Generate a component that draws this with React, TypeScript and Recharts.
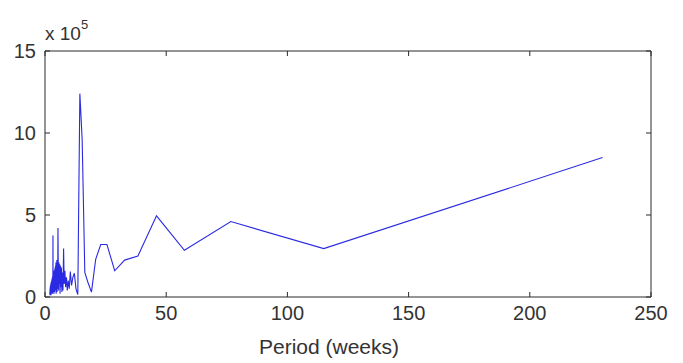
import React from 'react';
import { LineChart, Line, XAxis, YAxis } from 'recharts';

// Period (weeks) for each periodogram bin, longest first
const periods = [
  230, 115, 76.67, 57.5, 46, 38.33, 32.86, 28.75, 25.56, 23,
  20.91, 19.17, 17.69, 16.43, 15.33, 14.38, 13.53, 12.78, 12.11, 11.5,
  10.95, 10.45, 10, 9.58, 9.2, 8.85, 8.52, 8.21, 7.93, 7.67,
  7.42, 7.19, 6.97, 6.76, 6.57, 6.39, 6.22, 6.05, 5.9, 5.75,
  5.61, 5.48, 5.35, 5.23, 5.11, 5.0, 4.89, 4.79, 4.69, 4.6,
  4.51, 4.42, 4.34, 4.26, 4.18, 4.11, 4.04, 3.97, 3.9, 3.83,
  3.77, 3.71, 3.65, 3.59, 3.54, 3.48, 3.43, 3.38, 3.33, 3.29,
  3.24, 3.19, 3.15, 3.11, 3.07, 3.03, 2.99, 2.95, 2.91, 2.88,
  2.84, 2.8, 2.77, 2.74, 2.71, 2.67, 2.64, 2.61, 2.58, 2.56,
  2.53, 2.5, 2.47, 2.45, 2.42, 2.4, 2.37, 2.35, 2.32, 2.3,
  2.28, 2.25, 2.23, 2.21, 2.19, 2.17, 2.15, 2.13, 2.11, 2.09,
  2.07, 2.05, 2.04, 2.02, 2.0,
];

// Power, in units of 10^5
const power = [
  8.5, 2.95, 4.6, 2.85, 4.95, 2.5, 2.25, 1.6, 3.2, 3.2,
  2.3, 0.3, 0.9, 1.5, 9.6, 12.4, 0.15, 0.5, 1.45, 1.2,
  0.7, 1.55, 0.5, 1.0, 0.4, 1.2, 0.6, 1.6, 0.8, 2.95,
  0.4, 1.5, 0.3, 1.8, 0.6, 1.9, 0.2, 2.0, 0.8, 2.1,
  0.4, 1.7, 4.2, 0.5, 2.2, 0.3, 2.25, 0.9, 2.0, 0.2,
  2.1, 0.7, 1.9, 0.4, 1.8, 1.0, 1.7, 0.3, 1.6, 0.6,
  1.5, 0.2, 1.6, 0.8, 1.4, 0.3, 1.3, 0.5, 1.2, 3.75,
  0.4, 1.3, 0.2, 1.1, 0.6, 1.2, 0.3, 1.0, 0.5, 1.1,
  0.2, 0.9, 0.4, 1.0, 0.3, 0.8, 0.6, 0.9, 0.2, 0.8,
  0.4, 0.9, 0.1, 0.7, 0.5, 0.8, 0.2, 0.7, 0.4, 0.6,
  0.1, 0.7, 0.3, 0.6, 0.2, 0.5, 0.4, 0.6, 0.1, 0.5,
  0.3, 0.4, 0.1, 0.3, 0.2,
];

const xTicks = [0, 50, 100, 150, 200, 250];
const yTicks = [0, 5, 10, 15];
const xTitle = 'Period (weeks)';
const yScaleBase = 'x 10';
const yScaleExp = '5';

const data = periods.map((p, i) => ({ period: p, power: power[i] }));

const FONT = '"Liberation Sans", Arial, sans-serif';
const TEXT = '#333333';
const AXIS = '#2a2a2a';
const TICK_LEN = 5;
const LABEL_GAP = 9;

// layout
const CHART_W = 675;
const CHART_H = 355;
const MARGIN = { top: 43, right: 31, bottom: 0, left: 0 };
const LEFT_AXIS_W = 37;
const RIGHT_AXIS_W = 1;
const PLOT_W = CHART_W - MARGIN.left - MARGIN.right - LEFT_AXIS_W - RIGHT_AXIS_W;

const BottomTick = (props: any) => {
  const { x, y, payload } = props;
  const axisY = y - LABEL_GAP;
  return (
    <g>
      <line x1={x} x2={x} y1={axisY} y2={axisY - TICK_LEN} stroke={AXIS} />
      <text x={x} y={y} dy="0.71em" textAnchor="middle" fontSize={20} fill={TEXT} fontFamily={FONT}>
        {payload.value}
      </text>
    </g>
  );
};

const LeftTick = (props: any) => {
  const { x, y, payload } = props;
  const axisX = x + LABEL_GAP;
  return (
    <g>
      <line x1={axisX} x2={axisX + TICK_LEN} y1={y} y2={y} stroke={AXIS} />
      <text x={x} y={y} dy="0.36em" textAnchor="end" fontSize={20} fill={TEXT} fontFamily={FONT}>
        {payload.value}
      </text>
    </g>
  );
};

const RightTick = (props: any) => {
  const { x, y } = props;
  return <line x1={x} x2={x - TICK_LEN} y1={y} y2={y} stroke={AXIS} />;
};

const XTitle = (props: any) => {
  const vb = props.viewBox || {};
  return (
    <text
      x={vb.x + vb.width / 2 - 19}
      y={vb.y + 57}
      textAnchor="middle"
      fontSize={21}
      fill={TEXT}
      fontFamily={FONT}
    >
      {xTitle}
    </text>
  );
};

// "x 10^5" scale note, plus the top frame line with its inward ticks
const YScale = (props: any) => {
  const vb = props.viewBox || {};
  const left = vb.x + vb.width;
  const top = vb.y;
  const span = xTicks[xTicks.length - 1] - xTicks[0];
  return (
    <g>
      <line x1={left} x2={left + PLOT_W} y1={top} y2={top} stroke={AXIS} />
      {xTicks.map((t) => {
        const px = left + ((t - xTicks[0]) / span) * PLOT_W;
        return <line key={t} x1={px} x2={px} y1={top} y2={top + TICK_LEN} stroke={AXIS} />;
      })}
      <text x={left} y={top - 11} fontSize={19} fill={TEXT} fontFamily={FONT}>
        {yScaleBase}
        <tspan dy={-11} fontSize={13}>
          {yScaleExp}
        </tspan>
      </text>
    </g>
  );
};

export default function App() {
  return (
    <div style={{ width: CHART_W, height: CHART_H, background: '#fff' }}>
      <LineChart width={CHART_W} height={CHART_H} data={data} margin={MARGIN}>
        <XAxis
          dataKey="period"
          type="number"
          domain={[0, 250]}
          ticks={xTicks}
          allowDataOverflow
          height={66}
          tickSize={0}
          tickMargin={LABEL_GAP}
          tick={BottomTick}
          axisLine={{ stroke: AXIS }}
          tickLine={false}
          interval={0}
          label={{ content: XTitle }}
        />
        <YAxis
          type="number"
          domain={[0, 15]}
          ticks={yTicks}
          allowDataOverflow
          width={LEFT_AXIS_W}
          tickSize={0}
          tickMargin={LABEL_GAP}
          tick={LeftTick}
          axisLine={{ stroke: AXIS }}
          tickLine={false}
          interval={0}
          label={{ content: YScale }}
        />
        <YAxis
          yAxisId="right"
          orientation="right"
          type="number"
          domain={[0, 15]}
          ticks={yTicks}
          allowDataOverflow
          width={RIGHT_AXIS_W}
          tickSize={0}
          tickMargin={0}
          tick={RightTick}
          axisLine={{ stroke: AXIS }}
          tickLine={false}
          interval={0}
        />
        <Line
          type="linear"
          dataKey="power"
          stroke="#2a2ae2"
          strokeWidth={1.1}
          dot={false}
          activeDot={false}
          isAnimationActive={false}
        />
      </LineChart>
    </div>
  );
}
